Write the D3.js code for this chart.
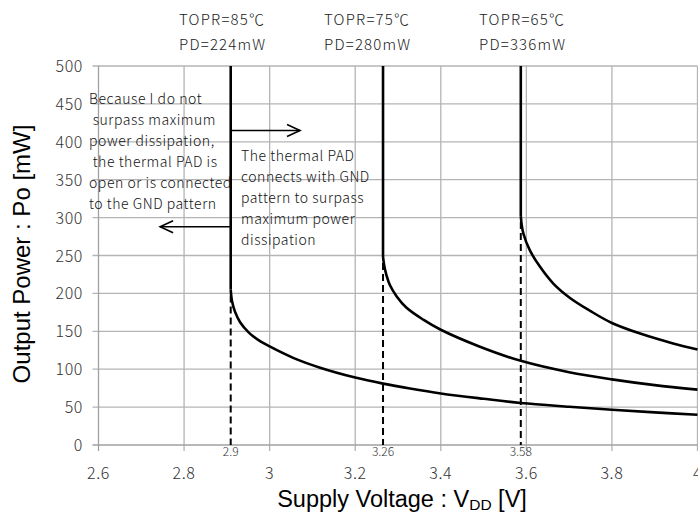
<!DOCTYPE html>
<html>
<head>
<meta charset="utf-8">
<script src="https://cdn.jsdelivr.net/npm/d3@7"></script>
<style>
  html, body { margin: 0; padding: 0; background: #fff; }
  svg { display: block; }
</style>
</head>
<body>
<svg id="chart" width="698" height="515"></svg>
<script>
// ---- data ----
const xTicks = [2.6, 2.8, 3.0, 3.2, 3.4, 3.6, 3.8, 4.0];
const xTickLabels = ["2.6", "2.8", "3", "3.2", "3.4", "3.6", "3.8", "4"];
const yTicks = [0, 50, 100, 150, 200, 250, 300, 350, 400, 450, 500];
const yTickLabels = ["0", "50", "100", "150", "200", "250", "300", "350", "400", "450", "500"];

const seriesNames = ["TOPR=85℃", "TOPR=75℃", "TOPR=65℃"];
const seriesPD = ["PD=224mW", "PD=280mW", "PD=336mW"];

const v85 = [2.909, 2.909, 2.912, 2.919, 2.931, 2.952, 2.975, 3.0, 3.055, 3.118, 3.2, 3.265, 3.328, 3.4, 3.5, 3.587, 3.7, 3.8, 3.9, 4.0];
const p85 = [500, 205, 190, 176, 162, 148, 138, 130, 115, 102, 89, 81, 74.5, 68, 61, 55.5, 50.5, 46.5, 43, 40];
const v75 = [3.265, 3.265, 3.268, 3.273, 3.281, 3.297, 3.32, 3.36, 3.4, 3.49, 3.587, 3.7, 3.8, 3.9, 4.0];
const p75 = [500, 248, 236, 224, 211, 196, 181, 165, 152, 130, 111, 96, 86.6, 79, 73];
const v65 = [3.587, 3.587, 3.589, 3.593, 3.608, 3.632, 3.663, 3.702, 3.749, 3.8, 3.866, 3.943, 4.0];
const p65 = [500, 302, 291, 279, 257, 235, 213, 194, 177, 161, 147, 134, 126];

const limitVoltages = [2.909, 3.265, 3.587];
const limitPowers = [205, 248, 302];
const limitLabels = ["2.9", "3.26", "3.58"];

const arrowRight = {y: 415, from: 2.909, to: 3.071};
const arrowLeft = {y: 288, from: 2.909, to: 2.744};

const leftNote = ["Because I do not", " surpass maximum", "power dissipation,", " the thermal PAD is", "open or is connected", "to the GND pattern"];
const rightNote = ["The thermal PAD", "connects with GND", "pattern to surpass", "maximum power", "dissipation"];

// ---- layout ----
const svg = d3.select("#chart");
const x = d3.scaleLinear().domain([2.6, 4.0]).range([98.5, 697.5]);
const y = d3.scaleLinear().domain([0, 500]).range([445, 66]);
const tickFont = "'Noto Sans CJK JP', 'Noto Sans', sans-serif";
const titleFont = "'Liberation Sans', Arial, sans-serif";
const gridColor = "#b4b4b4";

// grid
const g = svg.append("g");
g.selectAll(".vg").data(xTicks.slice(1)).enter().append("line")
  .attr("x1", d => x(d)).attr("x2", d => x(d))
  .attr("y1", y(500)).attr("y2", y(0) + 6)
  .attr("stroke", gridColor).attr("stroke-width", 1.3);
g.selectAll(".hg").data(yTicks.slice(1)).enter().append("line")
  .attr("x1", x(2.6) - 6).attr("x2", x(4.0))
  .attr("y1", d => y(d)).attr("y2", d => y(d))
  .attr("stroke", gridColor).attr("stroke-width", 1.3);
// axes lines
g.append("line").attr("x1", x(2.6)).attr("x2", x(2.6)).attr("y1", y(500)).attr("y2", y(0) + 6)
  .attr("stroke", "#a0a0a0").attr("stroke-width", 1.3);
g.append("line").attr("x1", x(2.6) - 6).attr("x2", x(4.0)).attr("y1", y(0)).attr("y2", y(0))
  .attr("stroke", "#a0a0a0").attr("stroke-width", 1.3);

// tick labels
svg.selectAll(".yl").data(yTicks).enter().append("text")
  .attr("x", 83).attr("y", d => y(d) + 6)
  .attr("text-anchor", "end")
  .attr("font-family", tickFont).attr("font-weight", 300).attr("font-size", 16)
  .attr("letter-spacing", 0.6)
  .attr("fill", "#333")
  .text((d, i) => yTickLabels[i]);
svg.selectAll(".xl").data(xTicks).enter().append("text")
  .attr("x", d => x(d)).attr("y", 479)
  .attr("text-anchor", "middle")
  .attr("font-family", tickFont).attr("font-weight", 300).attr("font-size", 16)
  .attr("letter-spacing", 0.6)
  .attr("fill", "#333")
  .text((d, i) => xTickLabels[i]);

// dashed limit lines
svg.selectAll(".dash").data(limitVoltages).enter().append("line")
  .attr("x1", d => x(d)).attr("x2", d => x(d))
  .attr("y1", (d, i) => y(limitPowers[i]) + 6).attr("y2", y(0))
  .attr("stroke", "#000").attr("stroke-width", 2)
  .attr("stroke-dasharray", "7,4");
svg.selectAll(".dl").data(limitVoltages).enter().append("text")
  .attr("x", d => x(d)).attr("y", 456)
  .attr("text-anchor", "middle")
  .attr("font-family", tickFont).attr("font-weight", 300).attr("font-size", 12)
  .attr("fill", "#333")
  .text((d, i) => limitLabels[i]);

// curves
const series = [[v85, p85], [v75, p75], [v65, p65]];
const vert = d3.line().x(d => x(d[0])).y(d => y(d[1]));
const curve = d3.line().x(d => x(d[0])).y(d => y(d[1])).curve(d3.curveCatmullRom.alpha(0.5));
series.forEach(([vs, ps]) => {
  const pts = vs.map((v, i) => [v, ps[i]]);
  svg.append("path").attr("d", vert(pts.slice(0, 2)))
    .attr("fill", "none").attr("stroke", "#000").attr("stroke-width", 2.6);
  svg.append("path").attr("d", curve(pts.slice(1)))
    .attr("fill", "none").attr("stroke", "#000").attr("stroke-width", 2.6)
    .attr("stroke-linejoin", "round");
});

// arrows
function arrow(a) {
  const x0 = x(a.from), x1 = x(a.to), yy = y(a.y);
  const dir = x1 > x0 ? 1 : -1;
  svg.append("line").attr("x1", x0).attr("x2", x1).attr("y1", yy).attr("y2", yy)
    .attr("stroke", "#000").attr("stroke-width", 1.6);
  svg.append("polyline")
    .attr("points", [[x1 - dir * 13, yy - 6], [x1, yy], [x1 - dir * 13, yy + 6]].map(p => p.join(",")).join(" "))
    .attr("fill", "none").attr("stroke", "#000").attr("stroke-width", 1.6);
}
arrow(arrowRight);
arrow(arrowLeft);

// notes
svg.selectAll(".ln").data(leftNote).enter().append("text")
  .attr("x", 89).attr("y", (d, i) => 104 + i * 21)
  .attr("font-family", tickFont).attr("font-size", 14).attr("font-weight", 300)
  .attr("letter-spacing", 0.55)
  .attr("fill", "#111").style("white-space", "pre")
  .text(d => d);
svg.selectAll(".rn").data(rightNote).enter().append("text")
  .attr("x", 241).attr("y", (d, i) => 161 + i * 21)
  .attr("font-family", tickFont).attr("font-size", 14).attr("font-weight", 300)
  .attr("letter-spacing", 0.55)
  .attr("fill", "#111")
  .text(d => d);

// top labels
const topX = [179, 324, 479];
svg.selectAll(".tn").data(seriesNames).enter().append("text")
  .attr("x", (d, i) => topX[i]).attr("y", 25)
  .attr("font-family", tickFont).attr("font-size", 15).attr("font-weight", 300)
  .attr("letter-spacing", 1.2).attr("fill", "#222")
  .text(d => d);
svg.selectAll(".tp").data(seriesPD).enter().append("text")
  .attr("x", (d, i) => topX[i]).attr("y", 50)
  .attr("font-family", tickFont).attr("font-size", 15).attr("font-weight", 300)
  .attr("letter-spacing", 1.2).attr("fill", "#222")
  .text(d => d);

// axis titles
const xt = svg.append("text").attr("x", 402).attr("y", 507)
  .attr("text-anchor", "middle")
  .attr("font-family", titleFont).attr("font-size", 23.5).attr("fill", "#000");
xt.append("tspan").text("Supply Voltage : V");
xt.append("tspan").attr("font-size", 15.5).attr("dy", 3).text("DD");
xt.append("tspan").attr("dy", -3).text(" [V]");

svg.append("text")
  .attr("transform", "translate(30,254) rotate(-90)")
  .attr("text-anchor", "middle")
  .attr("font-family", titleFont).attr("font-size", 24).attr("fill", "#000")
  .text("Output Power : Po [mW]");
</script>
</body>
</html>
